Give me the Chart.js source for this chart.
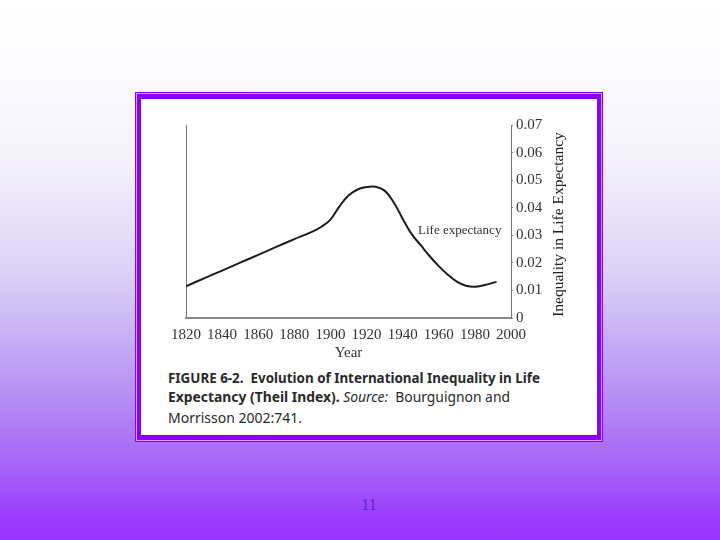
<!DOCTYPE html>
<html>
<head>
<meta charset="utf-8">
<script src="https://cdn.jsdelivr.net/npm/chart.js@4.4.1/dist/chart.umd.min.js"></script>
<style>
  html, body { margin: 0; padding: 0; }
  body {
    width: 720px; height: 540px; position: relative; overflow: hidden;
    background: linear-gradient(to bottom, #ffffff 0%, #fcfcff 12%, #f4f1fc 30%, #e6dff8 42%, #d9cdf6 52%, #c6aef5 63%, #b58cf5 74%, #a868f7 85%, #9b3cfc 96%, #9933ff 100%);
  }
  #frame { position: absolute; left: 135px; top: 92px; width: 468px; height: 350px; background: #8800ff; }
  #frameLine { position: absolute; left: 136px; top: 93px; width: 466px; height: 348px; border: 1px solid rgba(240, 220, 255, 0.7); box-sizing: border-box; }
  #inner { position: absolute; left: 141px; top: 99px; width: 456px; height: 336px; background: #ffffff; }
  canvas#chart { position: absolute; left: 0; top: 0; }
  .cap { position: absolute; left: 168px; white-space: nowrap; font-family: "Noto Sans", "Open Sans", sans-serif; font-size: 14px; color: #2a2a2a; transform-origin: 0 50%; line-height: 18px; }
  .b { font-weight: bold; }
  .i { font-style: italic; }
  #pagenum { position: absolute; left: 0; width: 738px; top: 496px; text-align: center; font-family: "Liberation Serif", "DejaVu Serif", serif; font-size: 16px; color: #5a22c8; }
</style>
</head>
<body>
<div id="frame"></div>
<div id="frameLine"></div>
<div id="inner"></div>
<div class="cap b" id="cap1" data-w="372" style="top:369px">FIGURE 6-2.&nbsp; Evolution of International Inequality in Life</div>
<div class="cap" id="cap2" data-w="342" style="top:388px"><span class="b">Expectancy (Theil Index).</span> <span class="i">Source:</span>&nbsp; Bourguignon and</div>
<div class="cap" id="cap3" data-w="134" style="top:409px">Morrisson 2002:741.</div>
<div id="pagenum">11</div>
<canvas id="chart" width="720" height="540"></canvas>
<script>
// ---- data ----
const years = [1820, 1830, 1840, 1850, 1860, 1870, 1880, 1890, 1895, 1900, 1905, 1910, 1915, 1920, 1925, 1930, 1935, 1940, 1945, 1950, 1955, 1960, 1965, 1970, 1975, 1980, 1985, 1992];
const inequality = [0.0115, 0.0144, 0.0172, 0.0201, 0.0229, 0.0258, 0.0286, 0.0313, 0.0331, 0.0357, 0.0405, 0.0444, 0.0466, 0.0475, 0.0476, 0.0462, 0.0420, 0.0360, 0.0304, 0.0264, 0.0224, 0.0188, 0.0157, 0.0132, 0.0117, 0.0113, 0.0119, 0.0131];
const yearTickLabels = [1820, 1840, 1860, 1880, 1900, 1920, 1940, 1960, 1980, 2000];
const valueTickLabels = [0, 0.01, 0.02, 0.03, 0.04, 0.05, 0.06, 0.07];
const seriesLabel = "Life expectancy";
const seriesLabelAt = [1948.5, 0.0316];
const xTitle = "Year";
const yTitle = "Inequality in Life Expectancy";

// ---- caption fitting ----
document.querySelectorAll('.cap').forEach(el => {
  const w = el.getBoundingClientRect().width;
  const target = parseFloat(el.dataset.w);
  el.style.transform = 'scaleX(' + (target / w) + ')';
});

const serif = '"Liberation Serif", "DejaVu Serif", serif';

const annotate = {
  id: 'annotate',
  afterDraw(chart) {
    const { ctx, scales, chartArea } = chart;
    ctx.save();
    ctx.fillStyle = '#333';
    ctx.font = '13px ' + serif;
    ctx.textAlign = 'left';
    ctx.textBaseline = 'middle';
    ctx.fillText(seriesLabel, scales.x.getPixelForValue(seriesLabelAt[0]), scales.y.getPixelForValue(seriesLabelAt[1]));
    ctx.translate(chartArea.right + 48, (chartArea.top + chartArea.bottom) / 2 + 3);
    ctx.rotate(-Math.PI / 2);
    ctx.textAlign = 'center';
    ctx.font = '15.5px ' + serif;
    ctx.fillStyle = '#222';
    ctx.fillText(yTitle, 0, 0);
    ctx.restore();
  }
};

new Chart(document.getElementById('chart'), {
  type: 'line',
  data: {
    datasets: [{
      label: seriesLabel,
      data: years.map((y, i) => ({ x: y, y: inequality[i] })),
      borderColor: '#1c1c1c',
      borderWidth: 2,
      pointRadius: 0,
      fill: false,
      tension: 0.4
    }]
  },
  options: {
    responsive: false,
    animation: false,
    devicePixelRatio: 1,
    layout: { padding: { left: 186, top: 125, right: 169, bottom: 178 } },
    plugins: { legend: { display: false }, tooltip: { enabled: false } },
    scales: {
      x: {
        type: 'linear',
        position: 'bottom',
        min: yearTickLabels[0],
        max: yearTickLabels[yearTickLabels.length - 1],
        afterBuildTicks: s => { s.ticks = yearTickLabels.map(v => ({ value: v })); },
        afterFit: s => { s.height = 44; },
        ticks: {
          autoSkip: false, maxRotation: 0, padding: 8,
          color: '#333', font: { family: serif, size: 15 },
          callback: v => String(v)
        },
        grid: {
          drawTicks: false,
          drawOnChartArea: true,
          color: c => (c.tick && c.tick.value === yearTickLabels[0]) ? '#777' : 'rgba(0,0,0,0)',
          lineWidth: 1
        },
        border: { display: true, color: '#8a8a8a', width: 2 },
        title: { display: true, text: xTitle, color: '#333', font: { family: serif, size: 15 }, padding: { top: 0, bottom: 0 } }
      },
      y: {
        type: 'linear',
        position: 'right',
        min: valueTickLabels[0],
        max: valueTickLabels[valueTickLabels.length - 1],
        afterBuildTicks: s => { s.ticks = valueTickLabels.map(v => ({ value: v })); },
        afterFit: s => { s.width = 40; },
        ticks: {
          padding: 3, color: '#333', font: { family: serif, size: 15 },
          callback: v => v === 0 ? '0' : Number(v).toFixed(2)
        },
        grid: { drawOnChartArea: false, drawTicks: true, tickLength: 2, color: '#888' },
        border: { display: true, color: '#777', width: 1 }
      }
    }
  },
  plugins: [annotate]
});
</script>
</body>
</html>
